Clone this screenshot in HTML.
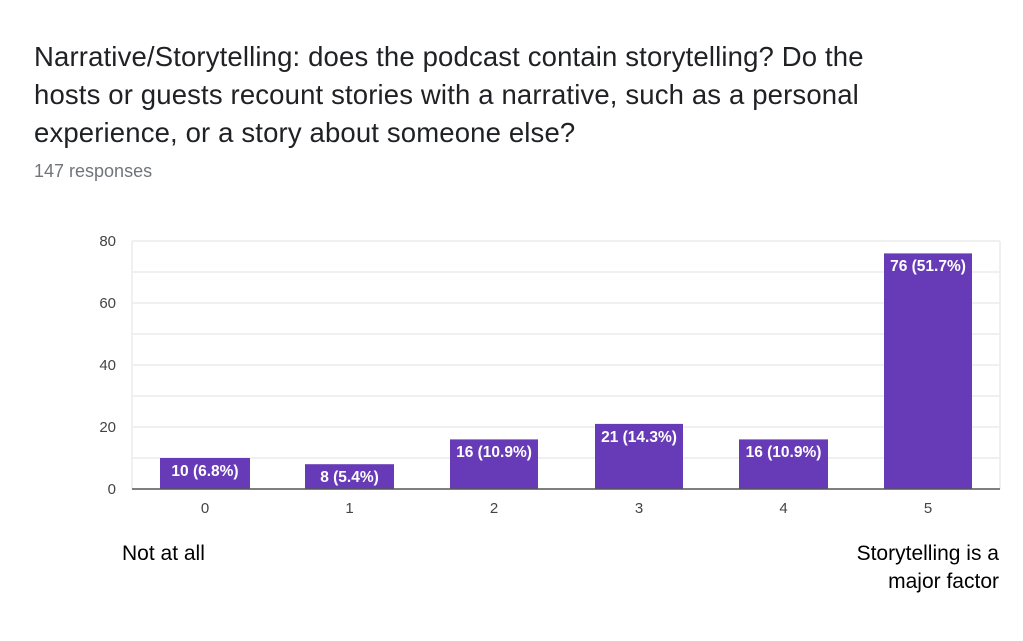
<!DOCTYPE html>
<html><head><style>
body{margin:0;background:#fff;width:1023px;height:641px;overflow:hidden;font-family:"Liberation Sans",Arial,sans-serif}
.t{position:absolute;left:34px;top:38px;font-size:27.5px;line-height:38px;color:#202124;letter-spacing:0.15px;white-space:nowrap}
.r{position:absolute;left:34px;top:161px;font-size:18px;color:#70757a}
</style></head><body>
<div class="t">Narrative/Storytelling: does the podcast contain storytelling? Do the<br>hosts or guests recount stories with a narrative, such as a personal<br>experience, or a story about someone else?</div>
<div class="r">147 responses</div>
<svg width="1023" height="641" style="position:absolute;left:0;top:0" font-family="Liberation Sans,Arial,sans-serif">
<g stroke="#ececec" stroke-width="1.5">
<line x1="132" x2="1000" y1="241" y2="241"/><line x1="132" x2="1000" y1="272" y2="272"/>
<line x1="132" x2="1000" y1="303" y2="303"/><line x1="132" x2="1000" y1="334" y2="334"/>
<line x1="132" x2="1000" y1="365" y2="365"/><line x1="132" x2="1000" y1="396" y2="396"/>
<line x1="132" x2="1000" y1="427" y2="427"/><line x1="132" x2="1000" y1="458" y2="458"/>
<line x1="132" x2="132" y1="241" y2="489"/><line x1="1000" x2="1000" y1="241" y2="489"/>
</g>
<g font-size="15" fill="#444" text-anchor="end">
<text x="116" y="246">80</text><text x="116" y="308">60</text><text x="116" y="370">40</text><text x="116" y="432">20</text><text x="116" y="494">0</text>
</g>
<g fill="#673ab7">
<rect x="160" y="458" width="90" height="31"/>
<rect x="305" y="464.2" width="89" height="24.8"/>
<rect x="450" y="439.4" width="88" height="49.6"/>
<rect x="595" y="423.9" width="88" height="65.1"/>
<rect x="739" y="439.4" width="89" height="49.6"/>
<rect x="884" y="253.4" width="88" height="235.6"/>
</g>
<line x1="132" x2="1000" y1="489" y2="489" stroke="#555" stroke-width="1.5"/>
<g font-size="15.5" font-weight="bold" fill="#fff" text-anchor="middle">
<text x="205" y="476">10 (6.8%)</text>
<text x="349.5" y="482">8 (5.4%)</text>
<text x="494" y="457">16 (10.9%)</text>
<text x="639" y="442">21 (14.3%)</text>
<text x="783.5" y="457">16 (10.9%)</text>
<text x="928" y="271">76 (51.7%)</text>
</g>
<g font-size="15" fill="#444" text-anchor="middle">
<text x="205" y="513">0</text><text x="349.5" y="513">1</text><text x="494" y="513">2</text>
<text x="639" y="513">3</text><text x="783.5" y="513">4</text><text x="928" y="513">5</text>
</g>
<g font-size="21" fill="#000">
<text x="122" y="560">Not at all</text>
<text x="999" y="560" text-anchor="end">Storytelling is a</text>
<text x="999" y="588" text-anchor="end">major factor</text>
</g>
</svg>
</body></html>
